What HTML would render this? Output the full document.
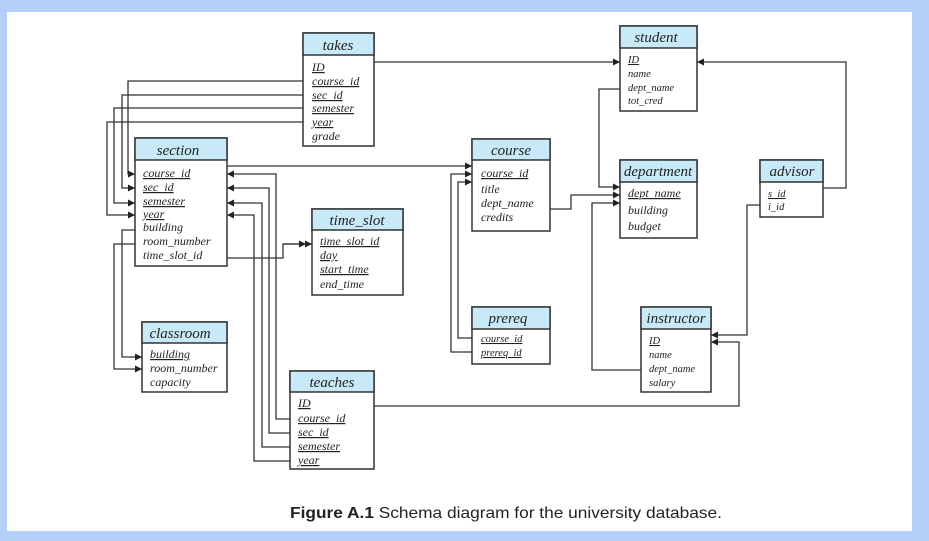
<!DOCTYPE html>
<html><head><meta charset="utf-8"><style>
html,body{margin:0;padding:0;background:#b3cffa;}
#w{position:absolute;left:7px;top:12px;width:905px;height:519px;background:#fff;}
svg{position:absolute;left:0;top:0;}
.t{font-family:"Liberation Serif",serif;font-style:italic;fill:#222;}
.h{font-size:15px;}
.r{font-size:12px;}
.s{font-size:10.5px;}
</style></head><body>
<div id="w"></div>
<svg width="929" height="541" viewBox="0 0 929 541">
<defs><marker id="a" markerWidth="8" markerHeight="8" refX="7" refY="4" orient="auto" markerUnits="userSpaceOnUse"><path d="M0,0.5 L7,4 L0,7.5Z" fill="#222"/></marker></defs>
<g fill="none" stroke="#333" stroke-width="1.3">
<polyline points="303,81 128,81 128,174 135,174" marker-end="url(#a)"/>
<polyline points="303,95 122,95 122,188 135,188" marker-end="url(#a)"/>
<polyline points="303,108 114,108 114,203 135,203" marker-end="url(#a)"/>
<polyline points="303,122 107,122 107,215 135,215" marker-end="url(#a)"/>
<polyline points="374,62 620,62" marker-end="url(#a)"/>
<polyline points="227,166 472,166" marker-end="url(#a)"/>
<polyline points="472,352 451,352 451,174 472,174" marker-end="url(#a)"/>
<polyline points="472,338 458,338 458,182 472,182" marker-end="url(#a)"/>
<polyline points="290,419 276,419 276,174 227,174" marker-end="url(#a)"/>
<polyline points="290,433 269,433 269,188 227,188" marker-end="url(#a)"/>
<polyline points="290,447 262,447 262,203 227,203" marker-end="url(#a)"/>
<polyline points="290,461 254,461 254,215 227,215" marker-end="url(#a)"/>
<polyline points="135,230 122,230 122,357 142,357" marker-end="url(#a)"/>
<polyline points="135,244 114,244 114,369 142,369" marker-end="url(#a)"/>
<polyline points="227,258 283,258 283,244 312,244" marker-end="url(#a)"/>
<polyline points="283,244 306,244" marker-end="url(#a)"/>
<polyline points="620,89 599,89 599,187 620,187" marker-end="url(#a)"/>
<polyline points="550,209 571,209 571,195 620,195" marker-end="url(#a)"/>
<polyline points="641,370 592,370 592,203 620,203" marker-end="url(#a)"/>
<polyline points="823,188 846,188 846,62 697,62" marker-end="url(#a)"/>
<polyline points="760,205 747,205 747,335 711,335" marker-end="url(#a)"/>
<polyline points="374,406 739,406 739,342 711,342" marker-end="url(#a)"/>
</g>
<g stroke="#333" stroke-width="1.5">
<rect x="303" y="33" width="71" height="113" fill="#fff"/><rect x="303" y="33" width="71" height="22" fill="#c8eaf8"/>
<rect x="135" y="138" width="92" height="128" fill="#fff"/><rect x="135" y="138" width="92" height="22" fill="#c8eaf8"/>
<rect x="312" y="209" width="91" height="86" fill="#fff"/><rect x="312" y="209" width="91" height="21" fill="#c8eaf8"/>
<rect x="142" y="322" width="85" height="70" fill="#fff"/><rect x="142" y="322" width="85" height="21" fill="#c8eaf8"/>
<rect x="290" y="371" width="84" height="98" fill="#fff"/><rect x="290" y="371" width="84" height="21" fill="#c8eaf8"/>
<rect x="472" y="139" width="78" height="92" fill="#fff"/><rect x="472" y="139" width="78" height="21" fill="#c8eaf8"/>
<rect x="472" y="307" width="78" height="57" fill="#fff"/><rect x="472" y="307" width="78" height="22" fill="#c8eaf8"/>
<rect x="620" y="26" width="77" height="85" fill="#fff"/><rect x="620" y="26" width="77" height="22" fill="#c8eaf8"/>
<rect x="620" y="160" width="77" height="78" fill="#fff"/><rect x="620" y="160" width="77" height="22" fill="#c8eaf8"/>
<rect x="760" y="160" width="63" height="57" fill="#fff"/><rect x="760" y="160" width="63" height="22" fill="#c8eaf8"/>
<rect x="641" y="307" width="70" height="85" fill="#fff"/><rect x="641" y="307" width="70" height="22" fill="#c8eaf8"/>
</g>
<g class="t">
<text class="h" x="338" y="50" text-anchor="middle">takes</text>
<g class="r"><text x="312" y="71" text-decoration="underline">ID</text><text x="312" y="85" text-decoration="underline">course_id</text><text x="312" y="99" text-decoration="underline">sec_id</text><text x="312" y="112" text-decoration="underline">semester</text><text x="312" y="126" text-decoration="underline">year</text><text x="312" y="140">grade</text></g>
<text class="h" x="178" y="155" text-anchor="middle">section</text>
<g class="r"><text x="143" y="177" text-decoration="underline">course_id</text><text x="143" y="191" text-decoration="underline">sec_id</text><text x="143" y="205" text-decoration="underline">semester</text><text x="143" y="218" text-decoration="underline">year</text><text x="143" y="231">building</text><text x="143" y="245">room_number</text><text x="143" y="259">time_slot_id</text></g>
<text class="h" x="357" y="225" text-anchor="middle">time_slot</text>
<g class="r"><text x="320" y="245" text-decoration="underline">time_slot_id</text><text x="320" y="259" text-decoration="underline">day</text><text x="320" y="273" text-decoration="underline">start_time</text><text x="320" y="288">end_time</text></g>
<text class="h" x="180" y="338" text-anchor="middle">classroom</text>
<g class="r"><text x="150" y="358" text-decoration="underline">building</text><text x="150" y="372">room_number</text><text x="150" y="386">capacity</text></g>
<text class="h" x="332" y="387" text-anchor="middle">teaches</text>
<g class="r"><text x="298" y="407" text-decoration="underline">ID</text><text x="298" y="422" text-decoration="underline">course_id</text><text x="298" y="436" text-decoration="underline">sec_id</text><text x="298" y="450" text-decoration="underline">semester</text><text x="298" y="464" text-decoration="underline">year</text></g>
<text class="h" x="511" y="155" text-anchor="middle">course</text>
<g class="r"><text x="481" y="177" text-decoration="underline">course_id</text><text x="481" y="193">title</text><text x="481" y="207">dept_name</text><text x="481" y="221">credits</text></g>
<text class="h" x="508" y="323" text-anchor="middle">prereq</text>
<g class="s"><text x="481" y="342" text-decoration="underline">course_id</text><text x="481" y="356" text-decoration="underline">prereq_id</text></g>
<text class="h" x="656" y="42" text-anchor="middle">student</text>
<g class="s"><text x="628" y="63" text-decoration="underline">ID</text><text x="628" y="77">name</text><text x="628" y="91">dept_name</text><text x="628" y="104">tot_cred</text></g>
<text class="h" x="658" y="176" text-anchor="middle">department</text>
<g class="r"><text x="628" y="197" text-decoration="underline">dept_name</text><text x="628" y="214">building</text><text x="628" y="230">budget</text></g>
<text class="h" x="792" y="176" text-anchor="middle">advisor</text>
<g class="s"><text x="768" y="197" text-decoration="underline">s_id</text><text x="768" y="210">i_id</text></g>
<text class="h" x="676" y="323" text-anchor="middle">instructor</text>
<g class="s"><text x="649" y="344" text-decoration="underline">ID</text><text x="649" y="358">name</text><text x="649" y="372">dept_name</text><text x="649" y="386">salary</text></g>
</g>
<text x="290" y="518" textLength="432" lengthAdjust="spacingAndGlyphs" style="font-family:'Liberation Sans',sans-serif;font-size:16px;fill:#222"><tspan font-weight="bold">Figure A.1</tspan>  Schema diagram for the university database.</text>
</svg>
</body></html>
